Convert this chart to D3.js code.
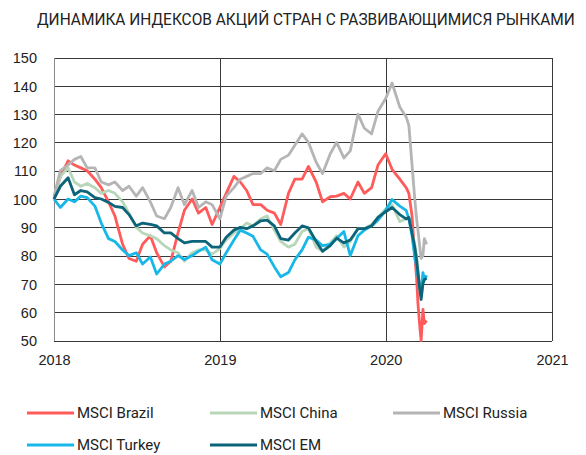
<!DOCTYPE html>
<meta charset="utf-8">
<style>
body { margin: 0; background: #fff; }
svg { font-family: "Open Sans", sans-serif; }
.grid line { stroke: #3a3a3a; stroke-width: 1px; shape-rendering: crispEdges; }
.grid path { display: none; }
.tick text { fill: #222; font-size: 14.5px; }
path.line { fill: none; stroke-width: 2.8px; stroke-linejoin: round; }
.legend text { font-family: Roboto, sans-serif; font-size: 15px; fill: #222; }
</style>
<div id="chart"></div>
<script src="https://d3js.org/d3.v7.min.js"></script>
<script>

// data (index, start of 2018 = 100)
var dates = [
  "2018-01-01","2018-01-15","2018-02-01","2018-02-15","2018-03-01","2018-03-15",
  "2018-04-01","2018-04-15","2018-05-01","2018-05-15","2018-06-01","2018-06-15",
  "2018-07-01","2018-07-15","2018-08-01","2018-08-15","2018-09-01","2018-09-15",
  "2018-10-01","2018-10-15","2018-11-01","2018-11-15","2018-12-01","2018-12-15",
  "2019-01-01","2019-01-15","2019-02-01","2019-02-15","2019-03-01","2019-03-15",
  "2019-04-01","2019-04-15","2019-05-01","2019-05-15","2019-06-01","2019-06-15",
  "2019-07-01","2019-07-15","2019-08-01","2019-08-15","2019-09-01","2019-09-15",
  "2019-10-01","2019-10-15","2019-11-01","2019-11-15","2019-12-01","2019-12-15",
  "2020-01-01","2020-01-15","2020-02-01","2020-02-15","2020-02-21","2020-02-28",
  "2020-03-05","2020-03-09","2020-03-12","2020-03-16","2020-03-19","2020-03-23",
  "2020-03-26","2020-03-31"
];

var brazil = [
  100,108,113.5,112,111,110, 107,104,99,94,84,79, 78,84,87,81,76,78,
  88,96,100,95,97,91, 97,102,108,106,103,98, 98,96,95,91,102,107,
  107,111.5,106,99,100.8,101, 102,100,106,102,104,112,
  116,110.5,107,104,102,94, 80,72,63,55,50,61, 56,57
];
var china = [
  100,108,111,106,104.5,105.5, 104,102,103,102,99,95, 90,88,87,86,83.5,82,
  81,78,81,82,82,80.5, 82.5,85.5,88,89.5,91.5,90.5, 93,94,89,85,83,84,
  88.5,89.5,83,81.5,84.5,87, 83,85,89.5,89.5,91,93.5,
  96.5,98,92,93,93,88, 84,80,75,69,66,71, 72,73
];
var russia = [
  101,110,112,114,115,111, 111,106,105,106,103,104.5, 101,104,99,94,93,97,
  104,98,103,97,99,98, 93,101,104,107,108,109, 109,111,110,114,115.5,119,
  123,120,113,109,116,120, 114.5,117,130,125,123,131,
  135.5,141,132.5,129,126,112, 100,93,89,83,79,80, 86,84
];
var turkey = [
  100,97,100,99,101,100.5, 97.5,91.5,86,85,82,80, 81,77,79.5,73.5,77,78,
  80,78.6,80,81.5,83,78.5, 77,81,85.5,89,88,86.8, 82,80.5,76,72.5,74,78.5,
  82,86.5,85.5,83.5,84,86, 88.5,80,87,89,90.5,92.5,
  96,99.8,97.5,96,93,87, 79.5,76,72.5,69,67,74, 71.5,73
];
var em = [
  100,104.5,107.5,101.5,103,102.5, 100.5,100,98.8,97.4,97,94.5, 90.5,91.5,91,90.5,88,88,
  86,84.5,85,85,85,83, 83,86.5,89,90,89.5,90.5, 92.3,92.5,90.5,86,85.5,88,
  90.5,89.8,85,81.5,83.5,86.2, 84.5,85.5,89.5,89.5,90.5,93.5,
  95.5,97,94.5,93,93.5,88, 83,78.5,74,68,64.5,70, 71.5,72
];

var seriesNames = ["MSCI Brazil", "MSCI China", "MSCI Russia", "MSCI Turkey", "MSCI EM"];
var seriesColors = ["#ff5b5b", "#b8d6b8", "#b5b5b5", "#17b7e8", "#0b6479"];
var yTicks = [50, 60, 70, 80, 90, 100, 110, 120, 130, 140, 150];
var xTicks = ["2018-01-01", "2019-01-01", "2020-01-01", "2021-01-01"];
var title = "ДИНАМИКА ИНДЕКСОВ АКЦИЙ СТРАН С РАЗВИВАЮЩИМИСЯ РЫНКАМИ";

var W = 586, H = 455;
var parse = d3.timeParse("%Y-%m-%d");

var x = d3.scaleTime()
  .domain([parse("2018-01-01"), parse("2021-01-01")])
  .range([54, 552]);
var y = d3.scaleLinear()
  .domain([50, 150])
  .range([340.5, 57.5]);

var svg = d3.select("#chart").append("svg")
  .attr("width", W)
  .attr("height", H);

// title: condensed face is not installed, so squeeze Roboto horizontally
var titleText = svg.append("text")
  .style("font-family", "Roboto, sans-serif")
  .style("font-size", "16.5px")
  .style("fill", "#222")
  .text(title);
var natural = titleText.node().getComputedTextLength();
titleText.attr("transform", "translate(37,25) scale(" + (538 / natural) + ",1)");

// horizontal grid + y labels
var yAxis = svg.append("g")
  .attr("class", "grid")
  .attr("transform", "translate(54,0)")
  .call(d3.axisLeft(y).tickValues(yTicks).tickSize(-(552 - 54)).tickPadding(17));
yAxis.selectAll(".tick text").attr("dy", "0.36em");

// vertical grid + x labels
var xAxis = svg.append("g")
  .attr("class", "grid")
  .attr("transform", "translate(0,340.5)")
  .call(d3.axisBottom(x).tickValues(xTicks.map(parse)).tickSize(-(340.5 - 57.5))
    .tickPadding(14).tickFormat(d3.timeFormat("%Y")));
xAxis.selectAll(".tick line")
  .style("stroke", function(d, i) { return i == 0 ? "#8a8a8a" : "#3a3a3a"; })
  .style("stroke-width", function(d, i) { return i == 0 ? "1.5px" : "1px"; });

var line = d3.line()
  .x(function(d) { return x(d.date); })
  .y(function(d) { return y(d.value); });

var allSeries = [brazil, china, russia, turkey, em].map(function(vals, i) {
  return {
    name: seriesNames[i],
    color: seriesColors[i],
    values: vals.map(function(v, j) { return { date: parse(dates[j]), value: v }; })
  };
});

svg.selectAll("path.line")
  .data(allSeries)
  .enter().append("path")
  .attr("class", "line")
  .style("stroke", function(d) { return d.color; })
  .attr("d", function(d) { return line(d.values); });

// legend, 3 columns x 2 rows
var legendPos = [[27, 413], [210, 413], [393, 413], [27, 445], [210, 445]];
var legend = svg.append("g")
  .attr("class", "legend")
  .selectAll("g")
  .data(allSeries)
  .enter().append("g")
  .attr("transform", function(d, i) { return "translate(" + legendPos[i] + ")"; });
legend.append("line")
  .attr("x1", 0)
  .attr("x2", 47)
  .style("stroke", function(d) { return d.color; })
  .style("stroke-width", "3px");
legend.append("text")
  .attr("x", 50)
  .attr("dy", "0.36em")
  .text(function(d) { return d.name; });

</script>
